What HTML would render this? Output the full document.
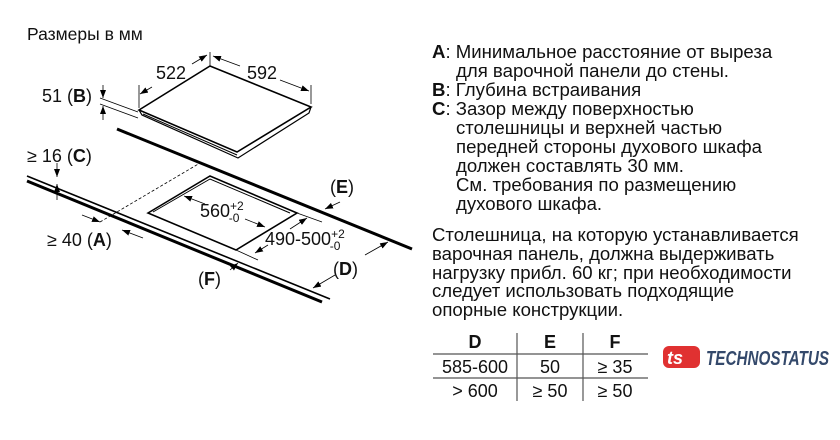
<!DOCTYPE html>
<html><head><meta charset="utf-8"><style>
body{margin:0;background:#fff;}
svg{display:block;font-family:"Liberation Sans","Noto Sans CJK SC",sans-serif;}
</style></head><body>
<svg width="840" height="440" viewBox="0 0 840 440" xmlns="http://www.w3.org/2000/svg">
<defs>
<marker id="ar" markerWidth="8" markerHeight="6" refX="8" refY="3" orient="auto" markerUnits="userSpaceOnUse"><path d="M0,0 L8,3 L0,6 Z" fill="#000"/></marker>
</defs>
<g font-size="17.5" fill="#111">
<text x="27" y="40">Размеры в мм</text>
</g>
<g stroke="#000" fill="none">
<path d="M139,110 L210,66 L311,107 L237,152 Z" stroke-width="1.6" fill="#fff"/>
<path d="M139,110 L142,115 L238,158 L309,113 L311,107" stroke-width="1.2"/>
<path d="M143,114 L237,155" stroke-width="1"/>
<path d="M117,129 L412,249" stroke-width="3"/>
<path d="M27,176 L330,299" stroke-width="1.6"/>
<path d="M27,181 L322,302" stroke-width="3"/>
<path d="M148,213 L210,176 L297,213 L236,250 Z" stroke-width="1.6"/>
<path d="M153,212 L210,179 L290,213" stroke-width="1"/>
<path d="M100,222 L200,163" stroke-width="0.8" stroke-dasharray="3,2"/>
<g stroke-width="0.8">
<path d="M210,52 L210,66 M139,85 L139,108 M311,85 L311,104"/>
<path d="M152,87 L140,94" marker-end="url(#ar)"/>
<path d="M192,64 L207,55" marker-end="url(#ar)"/>
<path d="M240,66 L213,56" marker-end="url(#ar)"/>
<path d="M280,80 L309,91" marker-end="url(#ar)"/>
<path d="M100,98 L138,112 M100,104 L138,118"/>
<path d="M103,85 L103,98" marker-end="url(#ar)"/>
<path d="M103,120 L103,106" marker-end="url(#ar)"/>
<path d="M57,163 L57,177" marker-end="url(#ar)"/>
<path d="M57,200 L57,184" marker-end="url(#ar)"/>
<path d="M82,215 L100,222" marker-end="url(#ar)"/>
<path d="M143,238 L122,230" marker-end="url(#ar)"/>
<path d="M297,213 L322,222 M236,250 L258,260"/>
<path d="M205,204 L184,196" marker-end="url(#ar)"/>
<path d="M245,219 L265,227" marker-end="url(#ar)"/>
<path d="M290,229 L307,218" marker-end="url(#ar)"/>
<path d="M268,245 L255,253" marker-end="url(#ar)"/>
<path d="M340,202 L325,209" marker-end="url(#ar)"/>
<path d="M230,270 L238,263" marker-end="url(#ar)"/>
<path d="M365,255 L388,242" marker-end="url(#ar)"/>
<path d="M335,275 L313,288" marker-end="url(#ar)"/>
</g>
</g>
<g font-size="18" fill="#111">
<text x="156" y="79">522</text>
<text x="247" y="79">592</text>
<text x="42" y="102">51 (<tspan font-weight="bold">B</tspan>)</text>
<text x="27" y="162">≥ 16 (<tspan font-weight="bold">C</tspan>)</text>
<text x="47" y="246">≥ 40 (<tspan font-weight="bold">A</tspan>)</text>
<text x="200" y="217">560<tspan font-size="12" dy="-7">+2</tspan><tspan font-size="12" dx="-15" dy="12">-0</tspan></text>
<text x="265" y="245">490-500<tspan font-size="12" dy="-7">+2</tspan><tspan font-size="12" dx="-15" dy="12">-0</tspan></text>
<text x="330" y="193">(<tspan font-weight="bold">E</tspan>)</text>
<text x="333" y="275">(<tspan font-weight="bold">D</tspan>)</text>
<text x="198" y="285">(<tspan font-weight="bold">F</tspan>)</text>
</g>
<g font-size="18.6" fill="#111">
<text x="432" y="58"><tspan font-weight="bold">A</tspan>: Минимальное расстояние от выреза</text>
<text x="456" y="77">для варочной панели до стены.</text>
<text x="432" y="96"><tspan font-weight="bold">B</tspan>: Глубина встраивания</text>
<text x="432" y="115"><tspan font-weight="bold">C</tspan>: Зазор между поверхностью</text>
<text x="456" y="134">столешницы и верхней частью</text>
<text x="456" y="153">передней стороны духового шкафа</text>
<text x="456" y="172">должен составлять 30 мм.</text>
<text x="456" y="191">См. требования по размещению</text>
<text x="456" y="210">духового шкафа.</text>
<text x="432" y="241">Столешница, на которую устанавливается</text>
<text x="432" y="260">варочная панель, должна выдерживать</text>
<text x="432" y="279">нагрузку прибл. 60 кг; при необходимости</text>
<text x="432" y="297">следует использовать подходящие</text>
<text x="432" y="316">опорные конструкции.</text>
</g>
<g stroke="#555" stroke-width="1.2">
<path d="M433,354 L648,354 M433,378 L648,378 M517,333 L517,401 M583,333 L583,401"/>
</g>
<g font-size="18" fill="#111" text-anchor="middle">
<text x="475" y="348" font-weight="bold">D</text>
<text x="550" y="348" font-weight="bold">E</text>
<text x="615" y="348" font-weight="bold">F</text>
<text x="475" y="373">585-600</text>
<text x="550" y="373">50</text>
<text x="615" y="373">≥ 35</text>
<text x="475" y="397">&gt; 600</text>
<text x="550" y="397">≥ 50</text>
<text x="615" y="397">≥ 50</text>
</g>
<g>
<rect x="663" y="346" width="37" height="22" rx="6" fill="#e03131"/>
<text x="667" y="364" font-size="18" font-weight="bold" fill="#fff" font-style="italic">ts</text>
<text x="706" y="365" font-size="20" font-weight="bold" font-style="italic" fill="#34496b" textLength="123" lengthAdjust="spacingAndGlyphs">TECHNOSTATUS</text>
</g>
</svg>
</body></html>
